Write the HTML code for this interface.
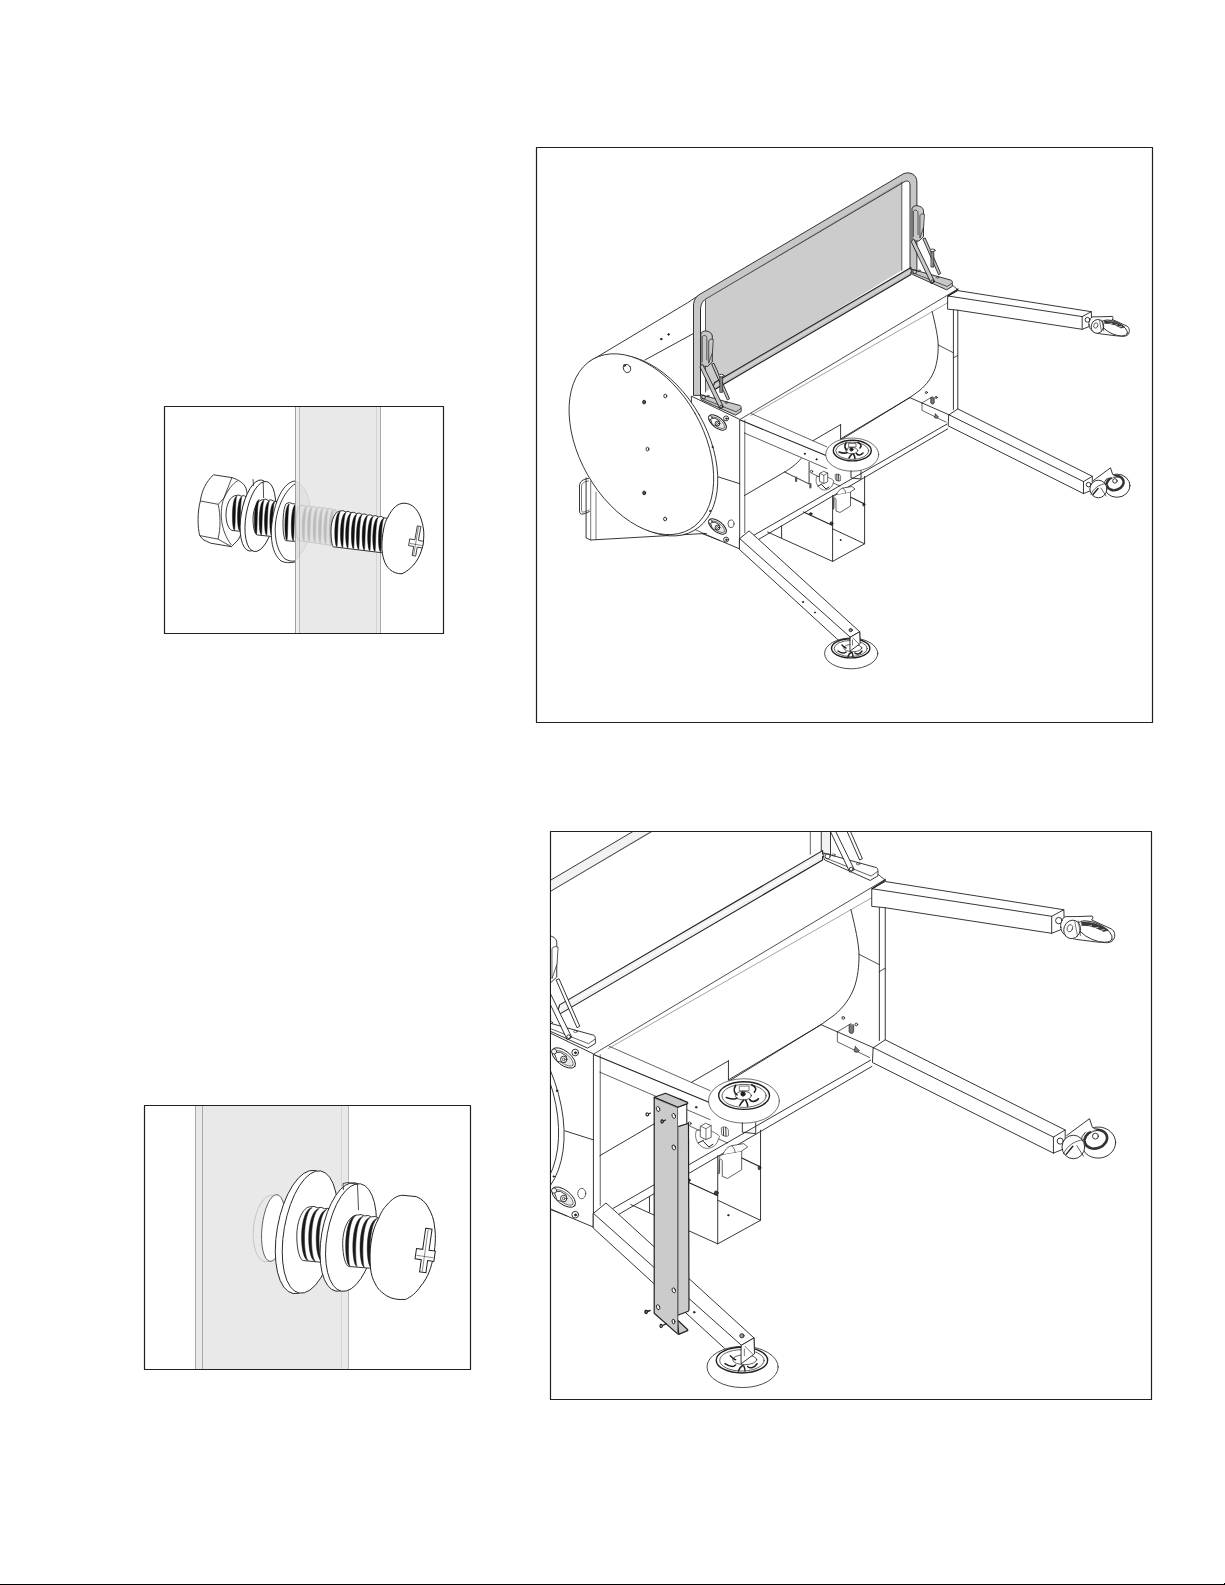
<!DOCTYPE html>
<html>
<head>
<meta charset="utf-8">
<style>
html,body{margin:0;padding:0;background:#fff;}
body{width:1225px;height:1585px;position:relative;overflow:hidden;font-family:"Liberation Sans",sans-serif;}
svg{position:absolute;left:0;top:0;}
#mach *{vector-effect:non-scaling-stroke;}
</style>
</head>
<body>
<svg width="1225" height="1585" viewBox="0 0 1225 1585">

<g id="box1">
<rect x="295" y="407" width="86" height="226" fill="#e9e9e9"/>
<rect x="296" y="407" width="3" height="226" fill="#efefef"/>
<path d="M213.4,474.8 L231.9,477.6 C238,479.5 244,483 246,488.2 C247.5,493 247.5,498 247,503 C246,520 243,532 238,540 L231.4,546.7 L210.7,543.2 L203,539.6 L199.8,535.6 C197.5,528 197.3,512 200.3,501 C202,490 206,482 213.4,474.8Z" fill="#fff" stroke="#231f20" stroke-width="0.9"/>
<path d="M200.3,501 L218.2,504.3 L223.8,498.3 L231.9,477.6 M218.2,504.3 C220.5,515 220.8,528 218,539.1 L231.4,546.7 M199.8,535.6 L218,539.1 M223.8,498.3 C219.5,510 219.8,530 231.4,545 M223.8,498.3 C228,490 232,484 237.9,480.6" fill="none" stroke="#231f20" stroke-width="0.8"/>
<path d="M236.0,495.6 Q238.6,494.1 241.2,496.2 Q243.8,494.7 246.4,496.8 L248.0,497.0 L248.0,532.0 L233.0,530.6 C229.2,530.6 226.0,523.5 226.0,514.9 C226.0,504.3 230.5,495.6 236.0,495.6Z" fill="#fff" stroke="#231f20" stroke-width="0.9"/>
<path d="M236.8,496.2 C231.2,497.6 231.6,529.6 234.5,530.3 C235.5,527.5 235.1,499.6 236.8,496.2Z" fill="#111" stroke="#111" stroke-width="0.5"/>
<path d="M241.9,496.8 C236.3,498.2 236.7,530.1 239.6,530.7 C240.6,528.0 240.2,500.2 241.9,496.8Z" fill="#111" stroke="#111" stroke-width="0.5"/>
<path d="M246.9,497.4 C241.3,498.7 241.7,530.5 244.6,531.2 C245.6,528.5 245.2,500.8 246.9,497.4Z" fill="#111" stroke="#111" stroke-width="0.5"/>
<ellipse cx="255.5" cy="515.5" rx="14.3" ry="36" transform="rotate(10 255.5 515.5)" fill="#fff" stroke="#231f20" stroke-width="0.9"/>
<ellipse cx="260.3" cy="516.5" rx="14.3" ry="35.5" transform="rotate(10 260.3 516.5)" fill="#fff" stroke="#231f20" stroke-width="0.9"/>
<path d="M253,479.2 L253.5,486 M263.2,481.8 L263.6,498" fill="none" stroke="#231f20" stroke-width="0.8"/>
<path d="M263.0,499.7 Q265.6,498.2 268.3,500.4 Q271.0,498.9 273.6,501.1 L277.0,501.5 L277.0,537.0 L257.5,535.0 C255.0,535.0 253.0,527.8 253.0,519.1 C253.0,508.4 257.5,499.7 263.0,499.7Z" fill="#fff" stroke="#231f20" stroke-width="0.9"/>
<path d="M259.2,499.7 C252.9,501.1 253.5,533.7 256.5,534.4 C257.4,531.6 256.8,503.2 259.2,499.7Z" fill="#111" stroke="#111" stroke-width="0.5"/>
<path d="M264.1,500.3 C257.9,501.7 258.4,534.2 261.4,534.9 C262.3,532.1 261.8,503.8 264.1,500.3Z" fill="#111" stroke="#111" stroke-width="0.5"/>
<path d="M269.4,501.0 C263.1,502.4 263.7,534.7 266.7,535.4 C267.6,532.7 267.0,504.5 269.4,501.0Z" fill="#111" stroke="#111" stroke-width="0.5"/>
<path d="M274.7,501.7 C268.4,503.1 269.0,535.3 272.0,536.0 C272.9,533.2 272.3,505.1 274.7,501.7Z" fill="#111" stroke="#111" stroke-width="0.5"/>
<path d="M295,481 C284,482 273.5,500 271.3,530 C271,545 274,555 281,561 L295,561.5 Z" fill="#fff" stroke="none"/>
<path d="M295,481 C284,482 273.5,500 271.3,530 C271,545 274,555 281,561 C285,563 290,563 295,562 M295,484 C288,488 278,502 275.5,523 C274,540 278,552 285,559 C289,561 292,561.5 295,561" fill="none" stroke="#231f20" stroke-width="0.9"/>
<path d="M287.0,503.3 Q289.6,501.7 292.3,503.7 L296.0,504.0 L296.0,541.5 L286.0,540.7 C284.4,540.7 283.0,533.2 283.0,523.9 C283.0,512.6 284.8,503.3 287.0,503.3Z" fill="#fff" stroke="#231f20" stroke-width="0.9"/>
<path d="M289.3,504.0 C283.7,505.4 284.1,539.6 287.0,540.3 C288.0,537.4 287.6,507.6 289.3,504.0Z" fill="#111" stroke="#111" stroke-width="0.5"/>
<path d="M295.7,504.5 C290.1,505.9 290.5,540.1 293.4,540.8 C294.4,537.9 294.0,508.1 295.7,504.5Z" fill="#111" stroke="#111" stroke-width="0.5"/>
<rect x="295" y="470" width="4" height="95" fill="#efefef" fill-opacity="0.85"/>
<path d="M295.7,481.4 C303,484 309,495 309.9,506 L309.9,530 C309,540 305,550 295.5,560" fill="#e2e2e2" stroke="#cbcbcb" stroke-width="0.8"/>
<path d="M300.0,505.7 Q302.7,504.2 305.4,506.3 Q308.1,504.9 310.8,507.0 Q313.5,505.5 316.2,507.6 Q318.9,506.1 321.6,508.2 Q324.3,506.7 327.0,508.8 Q329.7,507.3 332.4,509.4 L336.0,509.8 L336.0,546.2 L299.0,540.5 C297.4,540.5 296.0,533.4 296.0,524.8 C296.0,514.3 297.8,505.7 300.0,505.7Z" fill="#e0e0e0" stroke="#bfbfbf" stroke-width="0.8"/>
<path d="M306.5,507.0 C300.9,508.3 301.4,540.1 304.0,540.7 C305.0,538.0 304.5,510.3 306.5,507.0Z" fill="#bcbcbc" stroke="#bcbcbc" stroke-width="0.5"/>
<path d="M311.9,507.6 C306.3,508.9 306.8,540.9 309.4,541.6 C310.4,538.8 309.9,511.0 311.9,507.6Z" fill="#bcbcbc" stroke="#bcbcbc" stroke-width="0.5"/>
<path d="M317.5,508.2 C311.9,509.6 312.4,541.7 315.0,542.4 C316.0,539.7 315.5,511.6 317.5,508.2Z" fill="#bcbcbc" stroke="#bcbcbc" stroke-width="0.5"/>
<path d="M322.9,508.8 C317.3,510.2 317.8,542.6 320.4,543.3 C321.4,540.5 320.9,512.2 322.9,508.8Z" fill="#bcbcbc" stroke="#bcbcbc" stroke-width="0.5"/>
<path d="M328.3,509.4 C322.7,510.8 323.2,543.4 325.8,544.1 C326.8,541.3 326.3,512.9 328.3,509.4Z" fill="#bcbcbc" stroke="#bcbcbc" stroke-width="0.5"/>
<path d="M333.6,510.0 C328.0,511.4 328.5,544.2 331.1,544.9 C332.1,542.1 331.6,513.5 333.6,510.0Z" fill="#bcbcbc" stroke="#bcbcbc" stroke-width="0.5"/>
<g stroke-width="1" fill="none"><line x1="295.5" y1="407" x2="295.5" y2="633" stroke="#a0a0a0"/><line x1="299.5" y1="407" x2="299.5" y2="633" stroke="#b8b8b8"/><line x1="376.5" y1="407" x2="376.5" y2="633" stroke="#d4d4d4"/><line x1="380.5" y1="407" x2="380.5" y2="633" stroke="#aaaaaa"/></g>
<path d="M340.0,511.1 Q342.8,509.7 345.5,511.9 Q348.2,510.5 351.0,512.7 Q353.8,511.4 356.5,513.6 Q359.2,512.2 362.0,514.4 Q364.8,513.0 367.5,515.3 Q370.2,513.9 373.0,516.1 Q375.8,514.7 378.5,516.9 Q381.2,515.6 384.0,517.8 L389.0,518.6 L389.0,553.6 L333.5,546.8 C332.1,546.8 331.0,539.5 331.0,530.7 C331.0,519.9 335.1,511.1 340.0,511.1Z" fill="#fff" stroke="#231f20" stroke-width="0.9"/>
<path d="M340.3,511.6 C333.3,513.0 334.0,546.0 337.0,546.7 C337.9,543.9 337.2,515.1 340.3,511.6Z" fill="#111" stroke="#111" stroke-width="0.5"/>
<path d="M346.0,512.5 C339.0,513.9 339.7,546.7 342.7,547.4 C343.6,544.6 342.9,516.0 346.0,512.5Z" fill="#111" stroke="#111" stroke-width="0.5"/>
<path d="M351.2,513.3 C344.2,514.7 344.9,547.3 347.9,548.0 C348.8,545.3 348.1,516.8 351.2,513.3Z" fill="#111" stroke="#111" stroke-width="0.5"/>
<path d="M356.9,514.2 C349.9,515.5 350.6,548.1 353.6,548.7 C354.5,546.0 353.8,517.6 356.9,514.2Z" fill="#111" stroke="#111" stroke-width="0.5"/>
<path d="M362.0,514.9 C355.0,516.3 355.7,548.7 358.7,549.4 C359.6,546.6 358.9,518.4 362.0,514.9Z" fill="#111" stroke="#111" stroke-width="0.5"/>
<path d="M367.7,515.8 C360.7,517.2 361.4,549.4 364.4,550.1 C365.3,547.3 364.6,519.2 367.7,515.8Z" fill="#111" stroke="#111" stroke-width="0.5"/>
<path d="M373.2,516.6 C366.2,518.0 366.9,550.1 369.9,550.8 C370.8,548.0 370.1,520.1 373.2,516.6Z" fill="#111" stroke="#111" stroke-width="0.5"/>
<path d="M378.3,517.4 C371.3,518.8 372.0,550.7 375.0,551.4 C375.9,548.7 375.2,520.8 378.3,517.4Z" fill="#111" stroke="#111" stroke-width="0.5"/>
<path d="M384.0,518.3 C377.0,519.6 377.7,551.4 380.7,552.1 C381.6,549.4 380.9,521.7 384.0,518.3Z" fill="#111" stroke="#111" stroke-width="0.5"/>
<path d="M387.5,518 C392,508 398,503.2 404,503.2 C414,503.5 421,512 423.6,530 C425,545 420,565 402,573.8 C392,574 386,567 384,560 C381,552 381.5,540 383.5,530 C384.5,524 386,520 387.5,518Z" fill="#fff" stroke="#231f20" stroke-width="1"/>
<g transform="translate(416.5,541) rotate(10)"><path d="M-1.8,-15.0 L1.8,-15.0 L1.8,-0.9 L7.0,-0.9 L7.0,5.9 L1.8,5.9 L1.8,15.0 L-1.8,15.0 L-1.8,5.9 L-7.0,5.9 L-7.0,-0.9 L-1.8,-0.9Z" fill="#fff" stroke="#231f20" stroke-width="0.8"/><path d="M-0.4,-14.0 L-0.4,14.0 M-6.0,3.5 L6.0,3.5" fill="none" stroke="#231f20" stroke-width="0.5"/></g>
</g>
<g id="box4">
<rect x="195" y="1106" width="154" height="263" fill="#e9e9e9"/>
<g stroke-width="1" fill="none"><line x1="195.5" y1="1106" x2="195.5" y2="1369" stroke="#a8a8a8"/><line x1="202.5" y1="1106" x2="202.5" y2="1369" stroke="#a8a8a8"/><line x1="341.5" y1="1106" x2="341.5" y2="1369" stroke="#d5d5d5"/><line x1="348.5" y1="1106" x2="348.5" y2="1369" stroke="#b5b5b5"/></g>
<ellipse cx="269" cy="1228.5" rx="15.5" ry="33.5" transform="rotate(6 269 1228.5)" fill="none" stroke="#bdbdbd" stroke-width="0.8"/>
<ellipse cx="273.5" cy="1228" rx="11.5" ry="33.5" transform="rotate(6 273.5 1228)" fill="#fff" stroke="#444" stroke-width="0.8"/>
<ellipse cx="304" cy="1232" rx="27" ry="62.5" transform="rotate(10 304 1232)" fill="#fff" stroke="#231f20" stroke-width="0.9"/>
<ellipse cx="310" cy="1232" rx="26" ry="62" transform="rotate(10 310 1232)" fill="#fff" stroke="#231f20" stroke-width="0.9"/>
<path d="M310.5,1206.8 Q314.0,1205.5 317.5,1207.8 Q321.0,1206.4 324.5,1208.7 Q328.0,1207.4 331.5,1209.7 L334.0,1210.0 L334.0,1263.5 L303.8,1260.6 C299.9,1260.6 296.8,1249.7 296.8,1236.4 C296.8,1220.1 303.0,1206.8 310.5,1206.8Z" fill="#fff" stroke="#231f20" stroke-width="0.9"/>
<path d="M312.2,1207.6 C298.4,1209.7 299.1,1259.5 308.2,1260.6 C303.0,1256.3 302.3,1212.9 312.2,1207.6Z" fill="#1a1a1a" stroke="#1a1a1a" stroke-width="0.5"/>
<path d="M319.3,1208.5 C305.6,1210.6 306.2,1260.2 315.3,1261.2 C310.1,1257.0 309.4,1213.8 319.3,1208.5Z" fill="#1a1a1a" stroke="#1a1a1a" stroke-width="0.5"/>
<path d="M326.8,1209.5 C313.1,1211.6 313.7,1260.9 322.8,1261.9 C317.6,1257.7 316.9,1214.8 326.8,1209.5Z" fill="#1a1a1a" stroke="#1a1a1a" stroke-width="0.5"/>
<path d="M334.3,1210.5 C320.6,1212.6 321.2,1261.6 330.3,1262.7 C325.1,1258.5 324.4,1215.8 334.3,1210.5Z" fill="#1a1a1a" stroke="#1a1a1a" stroke-width="0.5"/>
<path d="M341.5,1211.5 C327.8,1213.6 328.4,1262.3 337.5,1263.3 C332.3,1259.2 331.6,1216.7 341.5,1211.5Z" fill="#1a1a1a" stroke="#1a1a1a" stroke-width="0.5"/>
<ellipse cx="345.5" cy="1237" rx="24" ry="55" transform="rotate(10 345.5 1237)" fill="#fff" stroke="#231f20" stroke-width="0.9"/>
<ellipse cx="351" cy="1237.5" rx="24" ry="54.5" transform="rotate(10 351 1237.5)" fill="#fff" stroke="#231f20" stroke-width="0.9"/>
<path d="M343,1183.5 L348,1182.5 L357.5,1184.5 L358.5,1210 M343,1183.5 L343.5,1190" fill="none" stroke="#231f20" stroke-width="0.8"/>
<path d="M357.7,1215.0 Q361.2,1213.7 364.7,1215.9 Q368.2,1214.6 371.7,1216.9 Q375.2,1215.6 378.7,1217.8 L380.0,1218.0 L380.0,1269.0 L349.2,1266.5 C345.6,1266.5 342.7,1256.1 342.7,1243.3 C342.7,1227.7 349.4,1215.0 357.7,1215.0Z" fill="#fff" stroke="#231f20" stroke-width="0.9"/>
<path d="M356.2,1215.3 C342.7,1217.3 344.0,1265.0 349.9,1266.1 C347.9,1262.0 346.6,1220.4 356.2,1215.3Z" fill="#1a1a1a" stroke="#1a1a1a" stroke-width="0.5"/>
<path d="M363.4,1216.3 C349.9,1218.3 351.2,1265.6 357.1,1266.6 C355.1,1262.6 353.8,1221.3 363.4,1216.3Z" fill="#1a1a1a" stroke="#1a1a1a" stroke-width="0.5"/>
<path d="M370.6,1217.2 C357.1,1219.2 358.4,1266.2 364.3,1267.2 C362.3,1263.2 361.0,1222.2 370.6,1217.2Z" fill="#1a1a1a" stroke="#1a1a1a" stroke-width="0.5"/>
<path d="M377.8,1218.2 C364.3,1220.2 365.6,1266.8 371.5,1267.8 C369.5,1263.8 368.2,1223.2 377.8,1218.2Z" fill="#1a1a1a" stroke="#1a1a1a" stroke-width="0.5"/>
<path d="M384.8,1219.1 C371.3,1221.1 372.6,1267.4 378.5,1268.4 C376.5,1264.4 375.2,1224.1 384.8,1219.1Z" fill="#1a1a1a" stroke="#1a1a1a" stroke-width="0.5"/>
<path d="M378.6,1218.6 C381,1212 384,1208 386.7,1205.1 C392,1199 397,1195.3 402.9,1195.3 L416.3,1196.6 C422,1199 426,1203 428,1207 C432,1214 434,1220 434.3,1224.9 C435.5,1232 435.5,1237 435.2,1242.9 C434.8,1249 434,1255 432.5,1260.8 C430,1272 426,1280 420.8,1286 C416,1293 411,1297 405.6,1299.4 C398,1300 392,1299 386.7,1295.8 C381,1292 378,1289 375.9,1285 C372.5,1279 371,1274 370.5,1268 C369.8,1260 369.8,1250 371,1242.9 C372.5,1232 375,1225 378.6,1218.6Z" fill="#fff" stroke="#231f20" stroke-width="1"/>
<g transform="translate(425.8,1250.5) rotate(8)"><path d="M-3.2,-22.0 L3.2,-22.0 L3.2,-0.7 L9.5,-0.7 L9.5,9.7 L3.2,9.7 L3.2,22.0 L-3.2,22.0 L-3.2,9.7 L-9.5,9.7 L-9.5,-0.7 L-3.2,-0.7Z" fill="#fff" stroke="#231f20" stroke-width="1"/><path d="M-0.6,-21.0 L-0.6,21.0 M-8.5,6.1 L8.5,6.1" fill="none" stroke="#231f20" stroke-width="0.5"/></g>
</g>
<g fill="none" stroke="#231f20" stroke-width="1.2" stroke-linejoin="round" stroke-linecap="round">
<rect x="164.5" y="406.5" width="279" height="227"/>
<rect x="536.5" y="147.5" width="616" height="575"/>
<rect x="550.5" y="831.5" width="601" height="568"/>
<rect x="144.5" y="1105.5" width="326" height="264"/>
</g>
<defs><clipPath id="c2"><rect x="537" y="148" width="615" height="574"/></clipPath><clipPath id="c3"><rect x="551" y="832" width="600" height="567"/></clipPath><g id="mach" fill="none" stroke="#231f20" stroke-width="0.9" stroke-linejoin="round" stroke-linecap="round">
<!-- drum top lines -->
<path d="M589.4,361.6 L687.3,302.9 L700.2,294.5"/>
<path d="M644.9,360 L693.5,333.5"/>
<circle cx="661.2" cy="339.1" r="0.8" fill="#231f20"/>
<circle cx="668.6" cy="334.4" r="0.8" fill="#231f20"/>
<!-- drum far silhouette + far lines -->
<path d="M932.1,311.4 C935.5,325 938,337 938.2,345 C938.3,355 937,362 935.2,368.2 C932,378 926,385 920,390.2 L909.8,397.6 L840.8,439.9"/>
<!-- frame top rail (front) -->
<path d="M740.3,419.3 L958.1,288.8" stroke="#3a3a3a" stroke-width="0.9"/>
<path d="M750.7,415.5 L947.8,302.7" stroke="#666" stroke-width="0.6"/>
<!-- right post -->
<path d="M938.2,345 L953.3,352.7 M953.3,358 L957.5,355.5" stroke-width="0.8"/>
<!-- back arm to right caster -->
<path d="M948,296 L957.8,290.6 L1091.3,311.7 L1091.7,325.5 L1082.2,329.3 L957.8,310.2 L948,309.2 Z" fill="#fff"/>
<path d="M948,296 L1082.2,316.6 L1091.3,311.7 M1082.2,316.6 L1082.2,329.3" />
<path d="M948,296 L957.8,289.6" stroke-width="1.3"/><path d="M950.9,284 L957.8,289.6" stroke-width="0.8"/>
<!-- right back caster -->
<g>
<path d="M1089,325 C1088.5,321 1090,317.5 1093,316.8 L1100.9,316.8 L1112.5,316.4 C1113.5,317.2 1113,318.5 1112,319.3 L1126.7,326 C1129.5,327.5 1130,331 1128.5,334 C1127,336 1124.5,336.5 1122.4,336.3 L1115.1,335.7 L1100.9,333.9 C1096,333 1092.5,331.5 1091.8,330.3 C1090,329 1089.2,327 1089,325 Z" fill="#fff"/>
<ellipse cx="1114.5" cy="328" rx="14" ry="6.2" transform="rotate(24 1114.5 328)" fill="#fff"/>
<path d="M1104.5,321 C1110,320.5 1118,322.5 1124.5,327 L1121,328 C1116,325 1110,323 1105,323.5 Z" fill="#3a3a3a" stroke-width="0.6"/>
<path d="M1108,324.5 L1112,323.5 M1114,325.5 L1117,324.8 M1119,327 L1121.5,326.5" stroke="#fff" stroke-width="0.7"/>
<ellipse cx="1097.5" cy="326.4" rx="6.2" ry="7" transform="rotate(20 1097.5 326.4)" fill="#fff"/>
<ellipse cx="1095.8" cy="325.5" rx="2" ry="2.8" transform="rotate(20 1095.8 325.5)" fill="none" stroke-width="0.7"/>
<path d="M1099.5,320.5 L1101.5,331.5 M1102,320 L1103.8,331" stroke-width="0.6"/>
<circle cx="1087.5" cy="319.8" r="2.4" fill="#fff"/>
</g>
<!-- front-right leg to caster 2 -->
<path d="M949,414.8 L957.8,408.9 L1092.3,476.3 L1092.3,490 L1083.5,493.6 L948.5,426 Z" fill="#fff"/>
<path d="M949,414.8 L1083.5,481.6 L1092.3,476.3 M1083.5,481.6 L1083.5,493.6" />
<path d="M953.4,310.2 L953.4,409.4 M957.8,310.2 L957.8,408.9" />
<g>
<ellipse cx="1117" cy="485.7" rx="13" ry="11.6" fill="#fff"/>
<ellipse cx="1115.2" cy="483.2" rx="8.6" ry="6.8" transform="rotate(-20 1115.2 483.2)" fill="none" stroke="#333" stroke-width="2.6"/>
<path d="M1108,484 L1111,481 M1114,489 L1117,486 M1120,479 L1122,482 M1112,477.5 L1116,479" stroke="#fff" stroke-width="0.9"/>
<circle cx="1114.9" cy="480.9" r="2.2" fill="#fff"/>
<path d="M1093.4,480.5 L1110.5,467.8 L1112.5,474 C1113.5,475.5 1115.5,476 1118,476" fill="#fff"/>
<ellipse cx="1098.4" cy="489" rx="8.5" ry="8.8" fill="#fff"/>
<path d="M1091,494 C1094,488 1099,484.5 1106,483.5 M1101,488 L1106,496" stroke-width="0.7"/>
<path d="M1093,494.5 L1098,488.5" stroke-width="1.4"/>
<circle cx="1088.6" cy="484.6" r="2.3" fill="#fff"/>
</g>
<!-- bottom right of post: rails -->
<path d="M909.8,397.6 L949,414.8" />
<!-- small bracket with pins near post -->
<path d="M922,403 L922,410.4 L946,422.1 M922,403 L932.3,396.7" stroke-width="0.7"/>
<path d="M930.8,398 L930.8,403 C931.5,404.5 933.5,404.5 934.2,403 L934.2,398 Z" fill="#777" stroke-width="0.7"/>
<path d="M935.5,414 L938.5,417 C937.5,418.5 935.5,418.5 934.5,417.5 L935.5,414 Z" fill="#777" stroke-width="0.7"/>
<circle cx="926.4" cy="392.5" r="1" />
<circle cx="936.2" cy="397.4" r="1" />

<!-- ===== gray backrest panel ===== -->
<path d="M705.5,300 L901.8,182.2 L901.8,270.2 L723.4,379.4 L705.5,392 Z" fill="var(--g1,#cccccc)" stroke="none"/>
<!-- frame tube -->
<path d="M693.5,395 L693.5,306 C693.5,300 696,296 702,293 L903,174 C909,171 916.9,174 916.9,182 L916.9,272 L910,272 L910,185 C910,181 907,180 904,182 L707.5,298 C703,300 700.5,304 700.5,310 L700.5,395 Z" fill="var(--g2,#c7c7c7)"/>
<path d="M700.5,395 L700.5,310 M705.5,300 L705.5,392 M901.8,182.2 L901.8,270.2" stroke-width="0.7"/>
<path d="M707.5,298 L901.8,182.2" stroke="#777" stroke-width="0.6"/>
<!-- bottom rail -->
<path d="M911,267.5 L714.4,382.8 L713.5,386.3 L714.4,389.7 L911,274.5 Z" fill="var(--g2,#c4c4c4)" stroke-width="1.1"/>
<path d="M911,270.8 L714.4,385.9" stroke="var(--g4,#d8d8d8)" stroke-width="1.2"/>

<!-- hinge brackets -->
<g id="hinge" fill="var(--g3,#c8c8c8)" stroke="#231f20" stroke-width="0.9">
<path d="M700.8,366 L700.8,334 C701.5,331.5 704,330.8 706,331 C709.5,331.5 712,333 712.3,336 L712.3,362 L708,366 Z"/>
<path d="M702.2,362 L702.2,337 C702.5,335.5 704,335.3 705,335.5 C706.3,336 706.8,337 706.8,338.5 L706.8,360" fill="none" stroke-width="0.7"/>
<path d="M708.7,362.9 L708.7,341 C709,339.5 711,338.8 713.3,339.6 L712.5,352 Z" stroke-width="0.7"/>
<path d="M712.1,364.1 L714,363.3 L729.5,398.8 L727.7,399.7 Z"/>
<path d="M700.8,394.7 L740,405.5 C741,406 741.4,407 741.1,411.7 L735.4,415.1 L701.4,399.8 C700.6,399 700.5,397 700.8,394.7 Z"/>
<path d="M702,398.3 L736,411.8 L740.8,408.5" fill="none" stroke-width="0.7"/>
<path d="M700.2,366.5 L702.6,364.2 L723.5,407 L720.4,408.8 Z"/>
<g style="display:var(--pind,inline)"><path d="M720.1,376.5 L722.6,376.5 L722.6,392.4 L720.1,392.4 Z" fill="#8a8a8a" stroke-width="0.7"/>
<ellipse cx="721.4" cy="375.6" rx="2.6" ry="1.3" fill="#f0f0f0" stroke-width="0.8"/></g>
<circle cx="703.6" cy="397" r="1.9" fill="none" stroke-width="0.8"/>
<circle cx="721.2" cy="406.6" r="1.4" fill="none" stroke-width="0.9"/>
<ellipse cx="726.3" cy="402.7" rx="1.3" ry="0.8" fill="none" stroke-width="0.6"/>
<ellipse cx="708" cy="396" rx="1.2" ry="0.8" fill="none" stroke-width="0.6"/>
</g>
<use href="#hinge" transform="translate(211.2,-125.3)"/>

<!-- ===== end plate (big disc) ===== -->
<!-- side plate behind disc -->
<path d="M691.7,396.3 L739.7,419.4 L739.7,548.9 L720,540.6 L692.9,530 Z" fill="#fff"/>
<path d="M718.3,476.9 L739.7,483.7" />
<path d="M744.8,433 L744.8,532.6" stroke-width="0.7"/>
<!-- bottom gusset -->
<path d="M586.1,477.9 L586.1,538 L590.7,540 L706.3,533.4" fill="#fff"/>
<path d="M590.7,481 L590.7,540 M596,492 L596,539.5" stroke-width="0.6"/>
<path d="M690,527.4 L720,540.6" stroke-width="0.7"/>
<!-- handle -->
<path d="M588.5,478.5 C583,479 579.5,481.5 579.5,486 L579.5,511 C579.5,514.5 582,515.5 589.4,511.5" stroke-width="0.9"/>
<path d="M588.5,481 C584,481.5 581.5,483 581.5,487 L581.5,510 C581.5,512.5 583,513 589,510" stroke-width="0.6"/>
<!-- rim (outer ellipse, shifted) -->
<ellipse cx="645.5" cy="445.5" rx="61.9" ry="97.9" transform="rotate(-29.6 645.5 445.5)" fill="#fff"/>
<!-- face -->
<ellipse cx="641.4" cy="444.2" rx="61.9" ry="97.9" transform="rotate(-29.6 641.4 444.2)" fill="#fff"/>
<!-- holes -->
<ellipse cx="627" cy="368.5" rx="3.6" ry="4.2" transform="rotate(-30 627 368.5)"/>
<circle cx="624.5" cy="365.5" r="1"/>
<ellipse cx="665.3" cy="396" rx="1.5" ry="1.9" />
<ellipse cx="644.1" cy="402.1" rx="1.5" ry="1.9" fill="#555"/>
<ellipse cx="647.5" cy="449.1" rx="1.4" ry="1.9" />
<ellipse cx="644.2" cy="492.9" rx="1.5" ry="1.9" fill="#555"/>
<ellipse cx="665.1" cy="519" rx="1.5" ry="1.9" />
<!-- side plate hardware -->
<g id="slotA">
<ellipse cx="717.5" cy="422.5" rx="10.5" ry="5.2" transform="rotate(38 717.5 422.5)" fill="#fff" stroke-width="1"/>
<ellipse cx="717.8" cy="422.8" rx="8.3" ry="3.6" transform="rotate(38 717.8 422.8)" fill="#e8e8e8" stroke="#555" stroke-width="0.8"/>
<path d="M710.5,418.5 L715,418.2 L719.5,421 L718.5,426 L713,425 Z" fill="#fff" stroke-width="0.8"/>
<circle cx="717.5" cy="423.5" r="2.4" fill="#fff" stroke-width="0.9"/>
<circle cx="717.5" cy="423.5" r="1" fill="none" stroke-width="0.7"/>
<circle cx="710.3" cy="417.6" r="1.9" fill="#fff" stroke-width="0.8"/>
</g>
<use href="#slotA" transform="translate(0,104)"/>
<circle cx="726.1" cy="418.4" r="2.5" fill="#fff" stroke-width="0.9"/>
<circle cx="726.3" cy="418.6" r="0.7" fill="#231f20"/>
<ellipse cx="731" cy="523.8" rx="3" ry="3.9" fill="#fff" stroke-width="0.7"/>
<circle cx="726.1" cy="539.6" r="2.5" fill="#fff" stroke-width="0.9"/>
<circle cx="726.3" cy="539.8" r="0.7" fill="#231f20"/>
<circle cx="712.5" cy="447" r="0.6" fill="#231f20"/>
<circle cx="710" cy="511" r="0.5" fill="#231f20"/>


<!-- ===== front frame / crossbars ===== -->
<!-- front top crossbar (down-right) -->
<path d="M740.3,420 L826,455.5" stroke-width="1.1"/><path d="M744.6,433.1 L826.9,468.6 M751.4,413.7 L826.9,446.9" stroke-width="0.7"/>
<path d="M744.8,420 L744.8,433" stroke-width="0.6"/>
<circle cx="804.8" cy="453.8" r="0.6" fill="#231f20"/>
<circle cx="816.5" cy="459.3" r="0.6" fill="#231f20"/>
<!-- drum bottom silhouette -->
<path d="M744.5,495.5 L784.6,472 C789,469.5 797,464 801,458.6 M784.6,472 L808.8,483.8 M809.1,462.2 L809.1,483.8" stroke-width="0.9"/>
<path d="M840.6,424.6 L840.6,438.9 M840.6,424.6 L813.1,440.6 M840.6,438.9 L909.8,397.6" stroke-width="0.9"/>
<path d="M796.1,477.5 L796.1,481 M810.4,484 L810.4,487.5" stroke="#555" stroke-width="2.2"/>
<!-- lower crossbar -->
<path d="M754.4,534.9 L946.9,424.1 M758.2,539.6 L947.8,428.8" />
<!-- central wheel -->
<ellipse cx="852.2" cy="454.6" rx="26.5" ry="16.6" fill="#fff" stroke="#333" stroke-width="0.7"/>
<ellipse cx="852.3" cy="450.6" rx="19" ry="10.3" stroke-width="1.4"/>
<ellipse cx="852.3" cy="450.8" rx="16.5" ry="8.6" stroke-width="0.7"/>
<ellipse cx="851.8" cy="450.6" rx="6" ry="3.2" stroke-width="0.7"/>
<path d="M846,443 C844,446 845,449 847,450 M858,442.5 C861,444 862,446 860,448 M839,452 C842,453 845,454 847,452.5 M863,453 C861,455 858,456 856.5,453.5 M849,458 C850,456 851,455 852,454 M855,458.5 C855,456.5 854,455 853.5,454" stroke-width="1.6"/>
<path d="M849,443.5 L856,443.5 L856,447 L849,447 Z" fill="#fff" stroke-width="0.6"/>
<circle cx="851.5" cy="449.4" r="1.6" fill="#231f20"/>
<path d="M851,471 L851,478 L861,479 L861,471" />
<!-- mechanism under crossbar -->
<path d="M812,473.5 L840,486" stroke-width="0.7"/>
<path d="M816.5,477 C815,482 817,487 822,489.5 C826,491 830,489 832,486 L834,481 C831,478 826,476 822,476 Z" fill="#fff" stroke-width="0.6"/>
<path d="M819.8,473.5 L823.5,471.3 L827.7,473 L827.7,481.8 L823.8,483.5 L819.8,481.5 Z" fill="#fff" stroke-width="0.7"/>
<path d="M819.8,473.5 L823.8,475.3 L827.7,473 M823.8,475.3 L823.8,483.5" stroke-width="0.6"/>
<path d="M822,485 L826,489 L829,487 M818,486 L822,484" stroke-width="1"/>
<path d="M835.5,474.5 C837,473.5 839.5,474 840.5,476 L840.7,480.5 C839.5,481.5 837,481 835.8,480 Z" fill="#fff" stroke-width="0.6"/>
<path d="M836.8,474.5 L837,480.5 M838.6,474.3 L838.8,480.8" stroke-width="0.9"/>
<circle cx="811.5" cy="471.5" r="1.2" fill="#fff" stroke-width="0.8"/>
<!-- electrical box -->
<path d="M781.6,526 L781.6,537.7 M767.6,532 L832.6,561.4 L864.6,543.8 L864.6,476.5 M832.6,495.5 L832.6,561.4 M832.6,528.8 L864.6,543.8" />
<path d="M803.5,512.1 L832.6,525.5 M850.2,497.1 L864.6,504" stroke-width="1.1"/>
<ellipse cx="810.7" cy="513.8" rx="1.3" ry="1.1" fill="#444"/>
<ellipse cx="831.5" cy="523.3" rx="1.4" ry="1.4" fill="#444"/>
<ellipse cx="863.8" cy="504.6" rx="1" ry="1.4" fill="#444"/>
<path d="M834,496 L836.5,494.5 L850.5,492 L850.5,506 L840,512.5 L836,511 L836,500 C836,498.5 835,497.5 834,498.5 L834,508 L833.5,509 Z" fill="#fff" stroke-width="0.7"/>
<path d="M836.5,494.5 C838,491 840,489 843,488 L852,486.5 L855,489 L850.5,492 M843,488 C845,490 846,492 845.5,493" fill="#fff" stroke-width="0.7"/>
<circle cx="840.5" cy="540" r="0.5" fill="#231f20"/>
<!-- front-left leg -->
<path d="M739.7,538.6 L749.1,530.9 L757.7,538.6 L859.7,631.7 L860.1,643.6 L850.3,650.9 L836.8,638.7 L739.7,549.7 Z" fill="#fff"/>
<path d="M739.7,538.6 L850.3,637.2 L859.7,631.7 M850.3,637.2 L850.3,650.9" />
<circle cx="803" cy="602" r="0.6" fill="#231f20"/>
<circle cx="815" cy="612.5" r="0.6" fill="#231f20"/>
<circle cx="850.7" cy="630.1" r="1.6" fill="#999"/>
<!-- front-left caster -->
<ellipse cx="851.2" cy="653.4" rx="26.6" ry="15.4" fill="#fff" stroke="#231f20" stroke-width="0.8"/>
<ellipse cx="850.7" cy="648.3" rx="19.2" ry="9.6" stroke-width="1.4"/>
<ellipse cx="850.7" cy="648.5" rx="16.6" ry="8" stroke-width="0.7"/><ellipse cx="852.8" cy="648" rx="9" ry="3.7" stroke-width="0.7"/>
<path d="M838,651 C841,653 844,654 846,652 M862,651 C860,654 857,655 855,653 M848,656.5 C849,654 850,653 851,652.5 M853,656.5 C853,654.5 852.5,653.5 852,652.5 M842,645 C844,647 845,648 846,648" stroke-width="1.5"/>
<path d="M850.3,637.2 L859.7,631.7 L860.1,643.6 L850.3,650.9 Z" fill="#fff"/>
<path d="M853,638 L859,644 M852.5,640 L852.5,645" stroke-width="0.6"/>
</g>
</defs><g clip-path="url(#c2)"><use href="#mach"/></g><g clip-path="url(#c3)"><use href="#mach" transform="matrix(1.338,0,0,1.338,-396.3,492.7)" style="--g1:#fff;--g2:#f2f2f2;--g3:#fff;--g4:#fff;--pind:none"/><g id="bracket3" stroke="#231f20" stroke-width="1.2" stroke-linejoin="round" stroke-linecap="round">
<!-- side flange -->
<path d="M677.7,1126.6 L688.5,1123.2 L689,1309.4 C689,1311 688,1311.5 687,1311.8 L677.7,1315.3 Z" fill="#cbcbcb"/>
<!-- inner white gap at top -->
<path d="M677.7,1107.3 L686.8,1103.8 L686.8,1123.8 L677.7,1126.6 Z" fill="#fff" stroke-width="1"/>
<!-- top tab -->
<path d="M654.2,1097.2 L665.5,1093.3 L687,1102.1 C688,1102.8 688,1103.3 687.5,1103.6 L677.7,1107.3 L655.2,1097.9 Z" fill="#c8c8c8"/>
<!-- bottom tab -->
<path d="M677.7,1320.2 L687,1329 C688,1330 688,1330.4 687.5,1330.6 L678.7,1334.4 Z" fill="#c9c9c9"/>
<path d="M677.7,1315.3 L677.7,1320.2" stroke-width="1"/>
<!-- front face -->
<path d="M654.2,1097.4 L677.6,1107.3 L677.6,1333.9 L654.2,1313.3 Z" fill="#cbcbcb" stroke="none"/>
<path d="M677.6,1107.3 L654.2,1097.4 L654.2,1313.3 L677.6,1333.9" fill="none"/>
<path d="M677.6,1108 L677.6,1333.5" fill="none" stroke="#6a6a6a" stroke-width="1"/>
<path d="M655.5,1098.8 L677,1107.8" stroke="#888" stroke-width="0.6" fill="none"/>
<!-- holes -->
<g fill="#fff" stroke-width="0.9">
<ellipse cx="658.1" cy="1109" rx="1.6" ry="2.6" transform="rotate(-20 658.1 1109)"/>
<ellipse cx="673.8" cy="1115.9" rx="1.6" ry="2.6" transform="rotate(-20 673.8 1115.9)"/>
<ellipse cx="673.8" cy="1147.4" rx="1.6" ry="2.6" transform="rotate(-20 673.8 1147.4)"/>
<ellipse cx="673.8" cy="1290.3" rx="1.6" ry="2.6" transform="rotate(-20 673.8 1290.3)"/>
<ellipse cx="658.1" cy="1307.2" rx="1.6" ry="2.6" transform="rotate(-20 658.1 1307.2)"/>
<ellipse cx="673.5" cy="1321.6" rx="1.4" ry="2.4" transform="rotate(-10 673.5 1321.6)"/>
</g>
<!-- screws -->
<g fill="none" stroke-width="1.1">
<path d="M646.5,1113 C645.5,1114 646,1116 647.5,1116 C649,1115.5 649,1113.5 647.5,1113 Z M648.5,1114 L650.5,1113"/>
<path d="M661.5,1120 C660.5,1121.5 661,1123 662.3,1123 C663.5,1122.5 663.8,1120.5 662.5,1120 Z M663.5,1121 L665.5,1120" stroke-width="1.3"/>
<path d="M645.5,1310.5 C644.5,1312 645,1313.5 646.3,1313.5 C647.5,1313 647.8,1311 646.5,1310.5 Z M647.5,1311.5 L650,1310.5" stroke-width="1.5"/>
<path d="M660.5,1324.5 C659.5,1326 660,1327.5 661.3,1327.5 C662.5,1327 662.8,1325 661.5,1324.5 Z M662.5,1325.5 L666,1323.8" stroke-width="1.3"/>
</g>
</g>
</g>
<rect x="0" y="1584" width="1225" height="1" fill="#000"/>
<rect x="1224" y="1583" width="1" height="2" fill="#000"/>
</svg>
</body>
</html>
